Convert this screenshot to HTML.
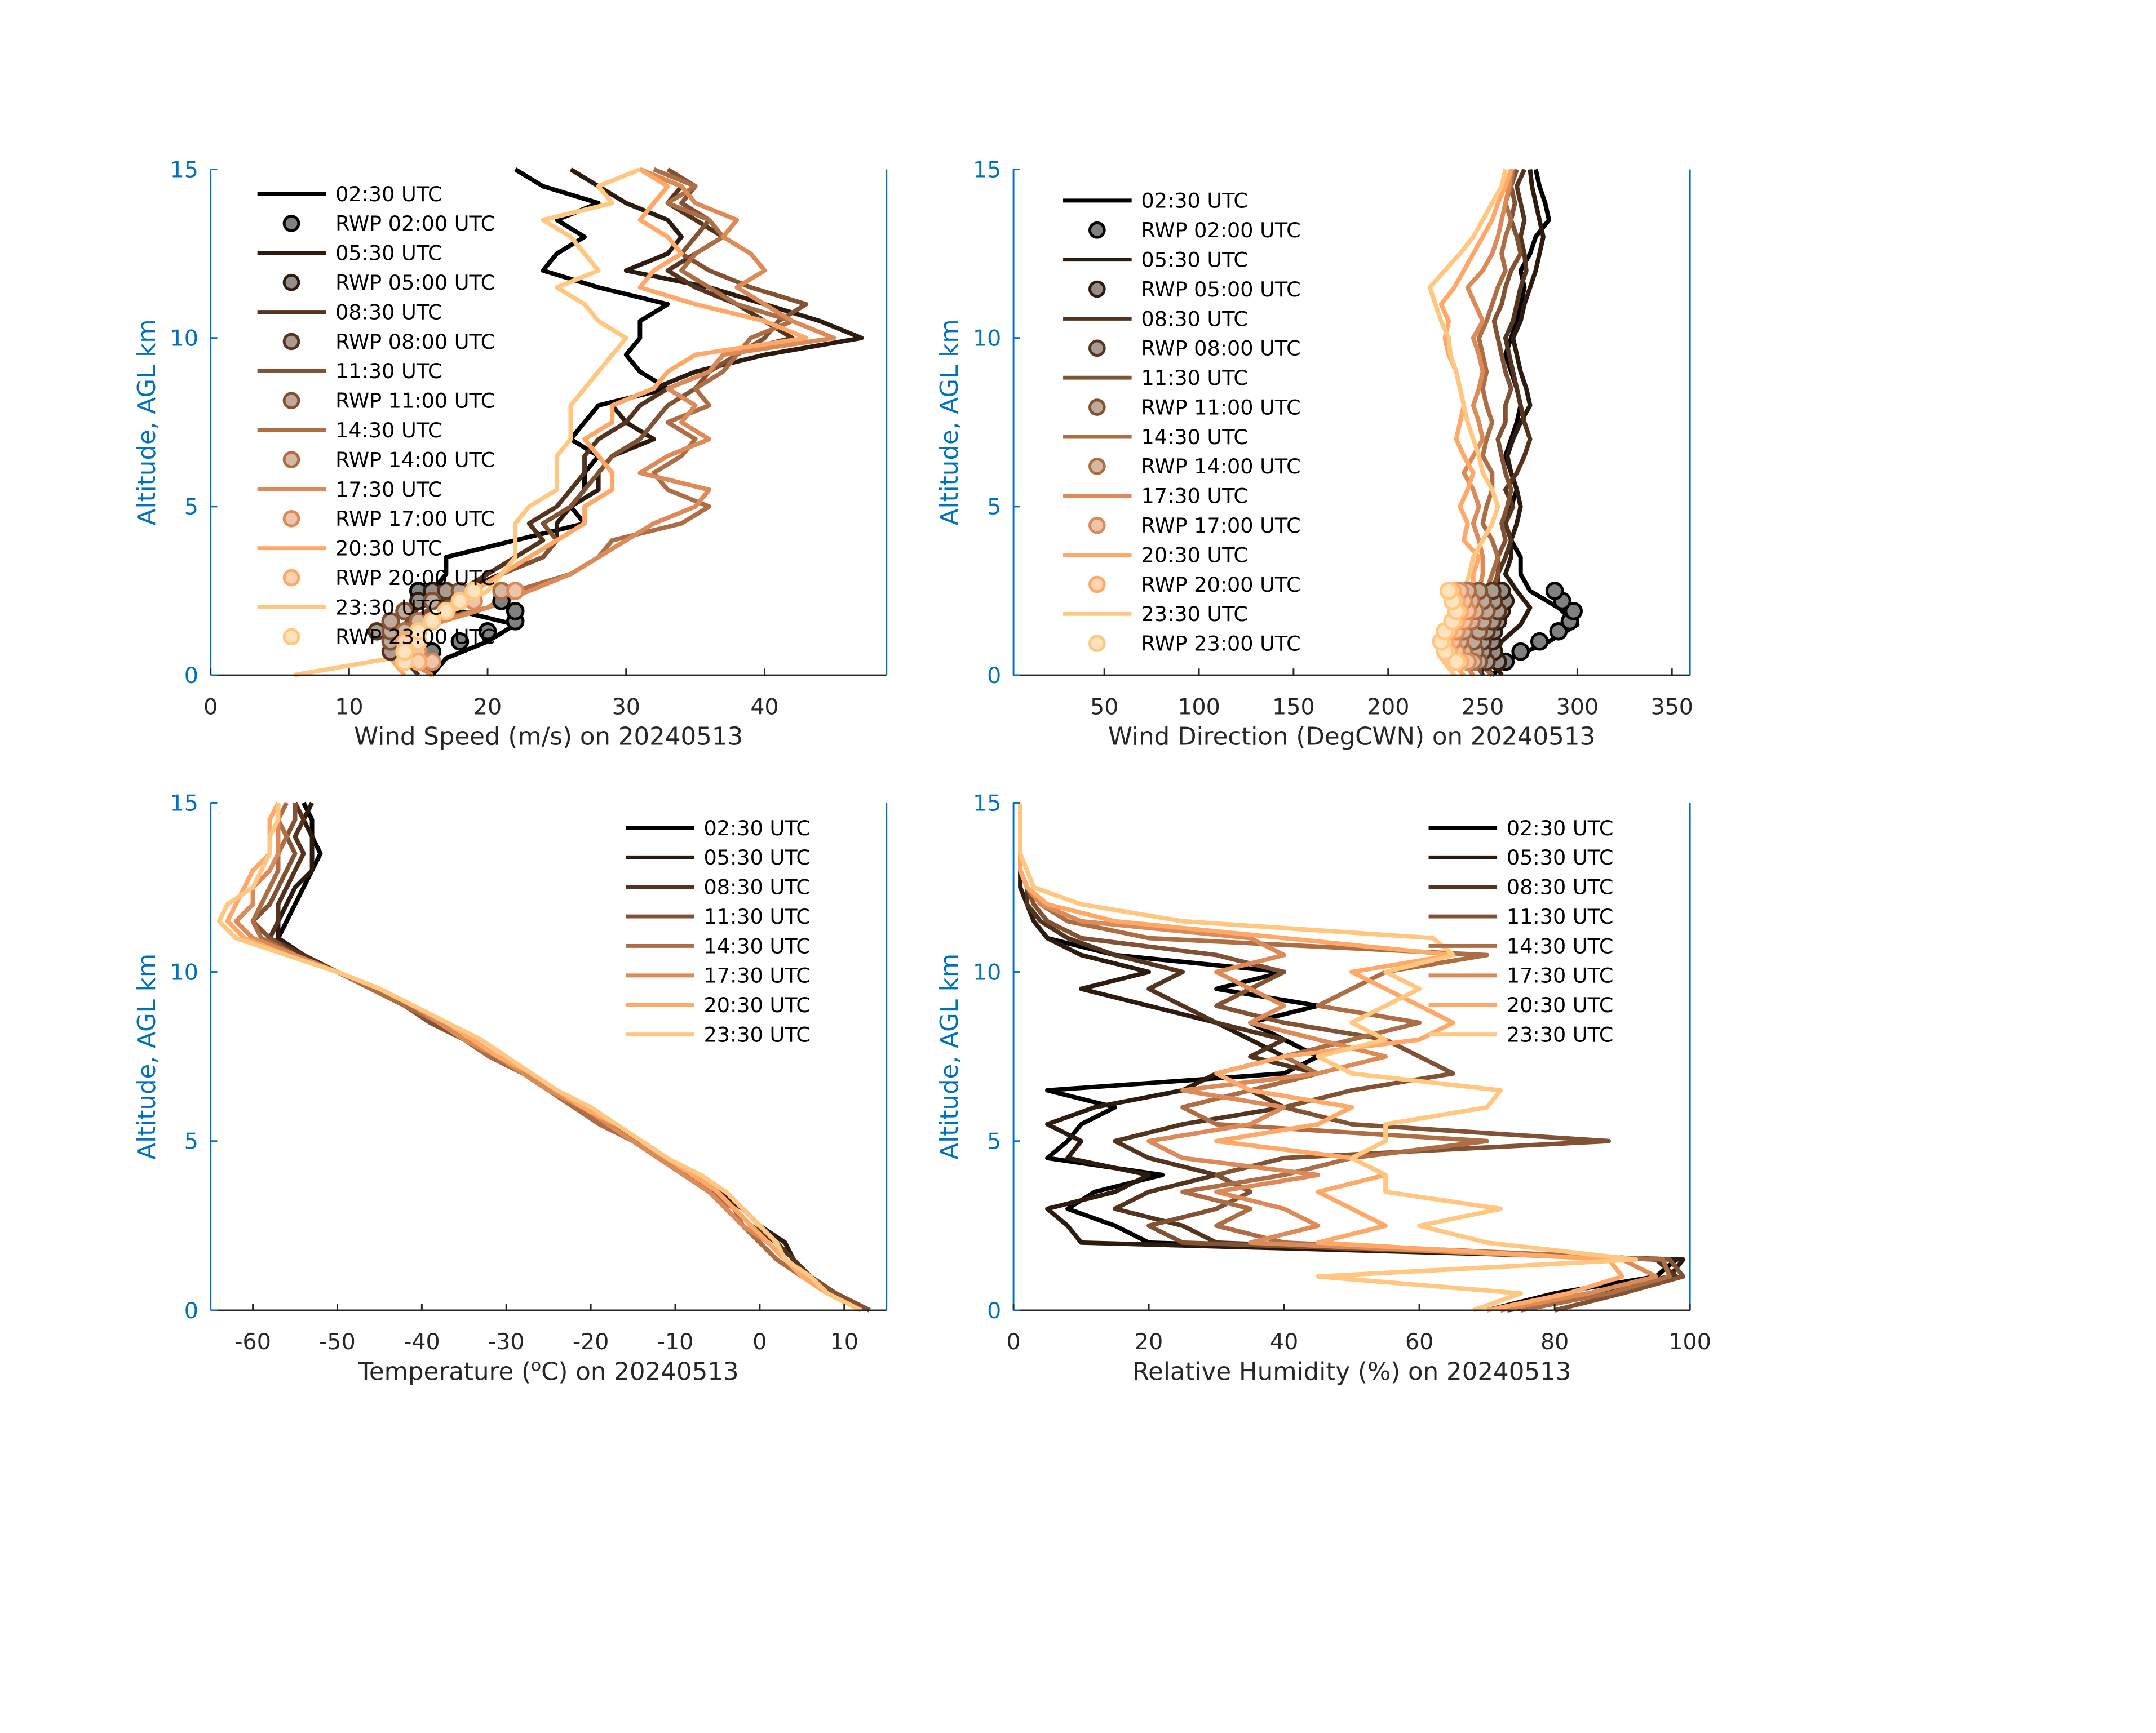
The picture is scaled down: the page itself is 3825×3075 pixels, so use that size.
<!DOCTYPE html>
<html><head><meta charset="utf-8">
<style>
html,body{margin:0;padding:0;background:#fff;}
svg{display:block;font-family:"DejaVu Sans","Liberation Sans",sans-serif;}
</style></head>
<body>
<svg id="fig" width="3825" height="3075" viewBox="0 0 3825 3075" xmlns="http://www.w3.org/2000/svg">
<rect width="3825" height="3075" fill="#fff"/>
<g id="root" transform="scale(0.9885)"></g>
</svg>
<script>
const labels = ["02:30 UTC","05:30 UTC","08:30 UTC","11:30 UTC","14:30 UTC","17:30 UTC","20:30 UTC","23:30 UTC"];
const rwpLabels = ["RWP 02:00 UTC","RWP 05:00 UTC","RWP 08:00 UTC","RWP 11:00 UTC","RWP 14:00 UTC","RWP 17:00 UTC","RWP 20:00 UTC","RWP 23:00 UTC"];
const colors = ["#000000","#2e1b10","#55341f","#815233","#ad6e46","#dc8a57","#ffa868","#ffc780"];
const fills = ["#808080","#978d88","#aa9a8f","#c0a999","#d6b7a2","#edc5ab","#ffd4b3","#ffe3bf"];
const alts = [0,0.5,1,1.5,2,2.5,3,3.5,4,4.5,5,5.5,6,6.5,7,7.5,8,8.5,9,9.5,10,10.5,11,11.5,12,12.5,13,13.5,14,14.5,15];
const speed = [
[16,17,20,22,17,16,17,17,22,27,26,27,27,28,26,27,28,33,31,30,31,31,33,28,24,25,27,25,28,24,22],
[16,15,13,14,16,18,21,24,25,25,26,28,28,29,32,30,29,32,35,40,47,44,40,36,30,33,34,33,30,28,26],
[15,14,13,14,15,18,20,22,24,23,25,26,27,27,28,30,31,33,36,37,42,40,38,35,33,35,37,35,33,34,31],
[16,14,13,14,16,19,21,24,25,24,26,27,28,29,31,32,33,35,36,38,40,41,43,39,36,34,35,36,34,35,33],
[16,14,14,15,20,22,26,28,29,34,36,33,32,34,35,33,36,35,37,38,39,42,38,36,34,35,37,36,33,35,32],
[16,14,14,16,20,23,26,28,30,32,35,36,31,33,36,34,35,33,36,37,45,42,40,38,40,39,37,38,35,34,31],
[14,13,13,15,18,19,21,23,25,27,27,29,29,28,27,29,29,32,33,35,43,40,35,31,32,34,33,31,32,33,31],
[6,13,14,15,18,20,21,22,22,22,23,25,25,25,26,26,26,27,28,29,30,28,27,25,28,27,26,24,29,28,31]];
const direction = [
[255,265,285,300,290,275,270,270,265,262,265,268,265,262,265,268,270,268,265,262,265,268,270,272,270,275,278,285,283,280,278],
[260,255,260,270,275,268,262,265,265,268,270,268,265,263,266,270,275,273,270,268,266,270,272,275,278,280,282,280,278,276,275],
[255,250,250,255,262,258,258,262,265,262,266,262,268,272,275,272,270,268,266,264,262,266,268,270,273,272,270,272,270,268,272],
[250,245,245,250,255,255,258,258,262,260,263,265,262,260,258,262,262,265,262,260,258,256,260,262,265,270,268,265,267,265,268],
[255,245,240,245,250,252,255,258,255,250,252,255,255,250,252,255,252,250,252,250,248,252,255,258,262,260,262,265,262,265,266],
[245,238,235,238,245,248,250,250,248,245,248,245,240,245,250,248,245,248,250,248,245,250,246,242,250,255,258,260,262,264,265],
[240,232,230,235,240,245,245,248,240,242,238,242,245,240,236,238,240,238,236,232,230,232,228,235,240,245,250,255,258,262,265],
[235,228,225,230,238,240,243,245,250,255,258,255,250,248,245,242,240,238,236,233,232,228,225,222,230,238,245,250,255,260,262]];
const temperature = [
[13,9,6,3,2,0,-2,-5,-8,-11,-14,-18,-21,-25,-28,-32,-35,-38,-42,-46,-50,-54,-57,-56,-55,-54,-53,-52,-53,-53,-54],
[13,9,6,4,3,0,-2,-5,-8,-11,-14,-18,-21,-25,-28,-32,-35,-38,-42,-46,-50,-54,-57,-57,-56,-55,-53,-53,-53,-54,-53],
[13,9,6,4,2,-1,-3,-5,-9,-12,-15,-18,-21,-25,-28,-32,-35,-39,-42,-46,-50,-54,-58,-57,-57,-56,-55,-54,-55,-54,-55],
[13,9,6,3,1,-1,-3,-6,-9,-12,-15,-18,-22,-25,-28,-32,-35,-39,-42,-46,-50,-55,-58,-60,-58,-57,-56,-55,-56,-55,-55],
[12,8,5,2,0,-2,-3,-6,-9,-12,-15,-19,-22,-25,-28,-32,-35,-38,-42,-46,-50,-55,-59,-60,-59,-58,-57,-57,-56,-57,-56],
[12,8,5,3,1,-2,-4,-6,-9,-12,-15,-18,-21,-25,-28,-31,-35,-38,-41,-45,-50,-55,-60,-62,-60,-60,-58,-57,-57,-57,-57],
[12,8,5,3,1,-1,-3,-5,-8,-11,-14,-17,-21,-24,-27,-31,-34,-37,-41,-45,-50,-56,-61,-63,-62,-61,-60,-58,-58,-58,-57],
[12,8,6,3,2,0,-2,-4,-7,-11,-14,-17,-20,-24,-27,-30,-33,-37,-41,-45,-50,-56,-62,-64,-63,-60,-59,-58,-58,-57,-57]];
const humidity = [
[70,80,95,98,20,15,8,12,22,5,8,10,15,5,40,45,40,35,45,30,40,15,5,3,2,2,1,1,1,1,1],
[72,85,97,99,10,8,5,15,20,8,10,5,12,25,30,40,35,30,20,10,20,10,5,3,2,1,1,1,1,1,1],
[73,88,98,95,30,25,15,20,30,20,15,25,40,35,45,35,40,30,25,20,25,15,8,4,2,2,1,1,1,1,1],
[80,90,99,97,25,20,30,35,30,40,88,50,40,50,65,60,55,40,30,35,40,30,10,5,3,2,1,1,1,1,1],
[75,88,97,96,40,30,35,25,40,50,70,30,25,35,45,40,50,60,45,50,55,70,20,8,4,2,1,1,1,1,1],
[72,85,95,90,35,45,40,30,45,25,20,35,40,25,45,55,45,35,40,35,30,40,35,10,4,2,1,1,1,1,1],
[70,82,90,88,45,55,50,45,55,50,30,45,50,35,30,40,60,65,60,55,50,65,40,15,5,2,1,1,1,1,1],
[68,75,45,92,70,60,72,55,55,50,55,55,70,72,50,45,55,50,55,60,55,65,62,25,10,3,2,1,1,1,1]];
const rwpAlts = [0.4,0.7,1.0,1.3,1.6,1.9,2.2,2.5];
const rwpSpeed = [
[16,16,18,20,22,22,21,15],
[15,14,14,13,13,14,15,16],
[14,13,13,12,13,14,16,17],
[15,14,13,13,13,14,16,18],
[16,15,14,14,15,17,19,21],
[16,15,15,15,16,17,19,22],
[15,14,14,15,16,17,18,19],
[14,14,15,15,16,17,18,19]];
const rwpDir = [
[262,270,280,290,296,298,292,288],
[258,256,255,256,258,260,262,260],
[252,250,250,252,255,258,256,255],
[248,246,245,248,250,252,250,248],
[245,240,238,240,244,246,244,242],
[242,236,234,236,240,242,240,238],
[238,232,230,232,236,238,236,234],
[236,230,228,230,234,236,234,232]];

const root = document.getElementById('root');
const NS = 'http://www.w3.org/2000/svg';
function mk(tag, attrs, parent){const e=document.createElementNS(NS,tag);for(const k in attrs)e.setAttribute(k,attrs[k]);(parent||root).appendChild(e);return e;}

const panels = [
 {name:'wind-speed',L:378,R:1591,T:304,B:1212,xmin:0,xmax:48.8,xticks:[0,10,20,30,40],xlabel:'Wind Speed (m/s) on 20240513',data:speed,rwp:rwpSpeed,legX:462,legY:348},
 {name:'wind-direction',L:1819,R:3033,T:304,B:1212,xmin:2,xmax:359.5,xticks:[50,100,150,200,250,300,350],xlabel:'Wind Direction (DegCWN) on 20240513',data:direction,rwp:rwpDir,legX:1908,legY:360},
 {name:'temperature',L:378,R:1591,T:1441,B:2352,xmin:-65,xmax:15,xticks:[-60,-50,-40,-30,-20,-10,0,10],xlabel:'TEMP',data:temperature,rwp:null,legX:1123,legY:1486},
 {name:'relative-humidity',L:1819,R:3033,T:1441,B:2352,xmin:0,xmax:100,xticks:[0,20,40,60,80,100],xlabel:'Relative Humidity (%) on 20240513',data:humidity,rwp:null,legX:2564,legY:1486}
];

panels.forEach(p=>{
  const g = mk('g',{});
  
  
  const xs = v => p.L + (v-p.xmin)/(p.xmax-p.xmin)*(p.R-p.L);
  const ys = v => p.B - v/15*(p.B-p.T);
  p.data.forEach((s,i)=>{
    const d = s.map((v,j)=>(j?'L':'M')+xs(v).toFixed(1)+','+ys(alts[j]).toFixed(1)).join(' ');
    const path = mk('path',{d:d,fill:'none',stroke:colors[i],'stroke-width':8,'stroke-linejoin':'round'},g);
    
    
  });
  if(p.rwp){
    p.rwp.forEach((s,i)=>{
      s.forEach((v,j)=>{
        const c = mk('circle',{cx:xs(v),cy:ys(rwpAlts[j]),r:14,fill:fills[i],stroke:colors[i],'stroke-width':5},g);
        
        
      });
    });
  }
  mk('line',{x1:p.L,y1:p.B,x2:p.R,y2:p.B,stroke:'#262626','stroke-width':3},g);
  mk('line',{x1:p.L,y1:p.T,x2:p.L,y2:p.B,stroke:'#0072BD','stroke-width':3},g);
  mk('line',{x1:p.R,y1:p.T,x2:p.R,y2:p.B,stroke:'#0072BD','stroke-width':3},g);
  p.xticks.forEach(t=>{
    const x = xs(t);
    mk('line',{x1:x,y1:p.B,x2:x,y2:p.B-12,stroke:'#262626','stroke-width':3},g);
    const tx = mk('text',{x:x,y:p.B+70,'font-size':40,fill:'#262626','text-anchor':'middle'},g);
    tx.textContent = String(t);
    
    
  });
  [0,5,10,15].forEach(t=>{
    const y = ys(t);
    mk('line',{x1:p.L,y1:y,x2:p.L+12,y2:y,stroke:'#0072BD','stroke-width':3},g);
    const tx = mk('text',{x:p.L-22,y:y+14,'font-size':40,fill:'#0072BD','text-anchor':'end'},g);
    tx.textContent = t;
    
    
  });
  const yl = mk('text',{x:0,y:0,'font-size':44,fill:'#0072BD','text-anchor':'middle',transform:`translate(${p.L-100},${(p.T+p.B)/2}) rotate(-90)`},g);
  yl.textContent = 'Altitude, AGL km';
  
  
  const xl = mk('text',{x:(p.L+p.R)/2,y:p.B+125,'font-size':44,fill:'#262626','text-anchor':'middle'},g);
  if(p.xlabel==='TEMP'){
    xl.appendChild(document.createTextNode('Temperature ('));
    const sup = mk('tspan',{dy:-16,'font-size':30},xl); sup.textContent='o';
    const rest = mk('tspan',{dy:16},xl); rest.textContent='C) on 20240513';
  } else xl.textContent = p.xlabel;
  
  
  const lg = mk('g',{},g);
  
  
  let row = 0;
  labels.forEach((lab,i)=>{
    const y = p.legY + row*53;
    mk('line',{x1:p.legX,y1:y,x2:p.legX+123,y2:y,stroke:colors[i],'stroke-width':7},lg);
    const t = mk('text',{x:p.legX+140,y:y+13,'font-size':37,fill:'#000'},lg);
    t.textContent = lab;
    
    
    row++;
    if(p.rwp){
      const y2 = p.legY + row*53;
      mk('circle',{cx:p.legX+61,cy:y2,r:13,fill:fills[i],stroke:colors[i],'stroke-width':5},lg);
      const t2 = mk('text',{x:p.legX+140,y:y2+13,'font-size':37,fill:'#000'},lg);
      t2.textContent = rwpLabels[i];
      
      
      row++;
    }
  });
});
</script>
</body></html>
